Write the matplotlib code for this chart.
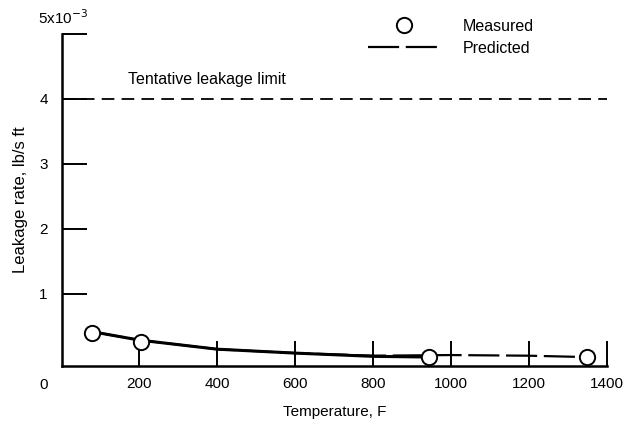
import matplotlib
matplotlib.use('Agg')
import matplotlib.pyplot as plt
from matplotlib.lines import Line2D

plt.rcParams['font.family'] = ['Liberation Sans', 'DejaVu Sans']

# values in units of 1e-3 lb/s ft
measured_temp = [78, 204, 943, 1349]
measured_rate = [0.40, 0.26, 0.03, 0.03]

fit_temp = [78, 200, 400, 600, 800, 940]
fit_rate = [0.42, 0.29, 0.15, 0.09, 0.04, 0.03]

predicted_temp = [78, 200, 400, 600, 800, 1000, 1200, 1340]
predicted_rate = [0.42, 0.29, 0.15, 0.09, 0.05, 0.06, 0.05, 0.03]

limit_rate = 4.0
x_ticks = [200, 400, 600, 800, 1000, 1200, 1400]
y_ticks = [1, 2, 3, 4, 5]

fig = plt.figure(figsize=(6.24, 4.23), dpi=100)
ax = fig.add_axes([0.0986, 0.1348, 0.874, 0.785])

ax.axhline(limit_rate, color='black', lw=1.3, dashes=(7, 4))
ax.text(171, 4.3, 'Tentative leakage limit', fontsize=11.5, va='center')

ax.plot(fit_temp, fit_rate, color='black', lw=2.2, solid_capstyle='butt')
ax.plot(predicted_temp, predicted_rate, color='black', lw=1.6, dashes=(14, 3))
ax.plot(measured_temp, measured_rate, 'o', ms=11, mfc='white', mec='black', mew=1.4, zorder=5)

ax.set_xlim(0, 1400)
ax.set_ylim(-0.108, 5)
ax.spines['top'].set_visible(False)
ax.spines['right'].set_visible(False)
ax.spines['left'].set_linewidth(1.8)
ax.spines['bottom'].set_linewidth(1.8)

ax.set_xticks(x_ticks)
ax.set_yticks(y_ticks)
ax.set_yticklabels(['1', '2', '3', '4', ''])
ax.tick_params(axis='both', direction='in', length=18, width=1.4, labelsize=11, pad=8)
ax.tick_params(axis='y', pad=10)
ax.text(-0.033, -0.058, '0', transform=ax.transAxes, fontsize=11, ha='center', va='center')
ax.text(-0.043, 1.048, r'5x10$^{-3}$', transform=ax.transAxes, fontsize=11, ha='left', va='center')

ax.set_xlabel('Temperature, F', fontsize=11, labelpad=10)
ax.set_ylabel('Leakage rate, lb/s ft', fontsize=12, labelpad=8)

handles = [
    Line2D([], [], ls='none', marker='o', ms=11, mfc='white', mec='black', mew=1.4),
    Line2D([], [], color='black', lw=1.6, dashes=(14, 3)),
]
ax.legend(handles, ['Measured', 'Predicted'], loc='center left', bbox_to_anchor=(0.535, 0.99),
          frameon=False, fontsize=11.5, handlelength=4.6, labelspacing=0.45, handletextpad=1.35)

fig.savefig('out.png', dpi=100)
